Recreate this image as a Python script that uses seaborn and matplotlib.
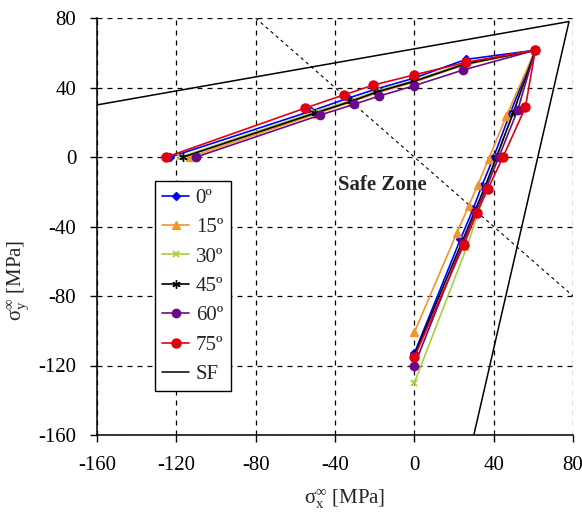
import matplotlib
matplotlib.use("Agg")
import matplotlib.pyplot as plt
import seaborn as sns
import pandas as pd

sns.set_theme(style="white")
plt.rcParams['font.family'] = ['Liberation Serif', 'DejaVu Serif']
plt.rcParams['mathtext.fontset'] = 'custom'
plt.rcParams['mathtext.rm'] = 'Liberation Serif'
plt.rcParams['mathtext.it'] = 'Liberation Serif'
plt.rcParams['mathtext.bf'] = 'Liberation Serif:bold'

labels = ["0º", "15º", "30º", "45º", "60º", "75º"]
colors = ["#0000FF", "#F0962A", "#A8D03A", "#000000", "#6A0A8A", "#E00010"]
markers = ["D", "^", "x", (6, 2, 0), "o", "o"]
msizes = [4, 6, 5, 6, 6, 6.5]

# path: left end (y=0) -> upper branch -> apex -> lower branch -> bottom (x=0)
x_0 = [-123, -52.0, -33.6, -19.7, -0.5, 26.0, 61, 48.4, 40.0, 34.0, 29.6, 23.2, 0]
y_0 = [0, 26.5, 33.8, 39.0, 45.3, 56.2, 61.5, 25.5, 0, -16.7, -30.0, -47.4, -113]
x_15 = [-113, -49.0, -31.5, -18.5, -0.4, 25.0, 61, 46.4, 37.5, 32.0, 27.4, 21.5, 0]
y_15 = [0, 25.0, 31.8, 37.0, 43.0, 53.0, 61.5, 23.6, -1, -16.1, -28.2, -43.5, -101]
x_30 = [-118, -50.5, -32.5, -19.0, -0.4, 25.5, 61, 50.0, 41.5, 36.0, 32.0, 26.2, 0]
y_30 = [0, 25.8, 32.5, 38.0, 44.0, 54.0, 61.5, 26.0, 0, -18.0, -33.0, -52.6, -130]
x_45 = [-116.5, -50.0, -32.0, -18.8, -0.4, 25.5, 61, 50.1, 41.4, 35.5, 30.5, 24.0, 0]
y_45 = [0, 25.3, 32.0, 37.5, 43.5, 53.5, 61.5, 26.1, 0, -17.5, -31.0, -49.0, -114]
x_60 = [-110, -47.4, -30.6, -17.7, -0.3, 24.6, 61, 52.1, 42.6, 36.2, 31.0, 24.5, 0]
y_60 = [0, 24.2, 30.3, 35.1, 41.0, 50.1, 61.5, 27.0, 0, -18.0, -31.5, -49.5, -120]
x_75 = [-125, -55.0, -35.7, -20.8, -0.3, 26.2, 61, 56.0, 44.7, 37.0, 31.6, 24.9, 0]
y_75 = [0, 28.2, 35.7, 41.4, 47.2, 54.6, 61.5, 28.6, 0, -18.6, -32.0, -50.6, -115.3]

xs = [x_0, x_15, x_30, x_45, x_60, x_75]
ys = [y_0, y_15, y_30, y_45, y_60, y_75]

sf_x = [-160, 78, 30]
sf_y = [30, 78, -160]
diag_x = [-80, 80]
diag_y = [80, -80]

fig = plt.figure(figsize=(5.82, 5.16), dpi=100)
ax = fig.add_axes([0.1667, 0.157, 0.8178, 0.808])

sns.lineplot(x=sf_x, y=sf_y, sort=False, estimator=None, color="black",
             linewidth=1.1, ax=ax, label="SF")
ax.plot(diag_x, diag_y, color="black", linewidth=0.8, linestyle=(0, (3, 3)))

for lab, c, m, ms, xv, yv in zip(labels, colors, markers, msizes, xs, ys):
    df = pd.DataFrame({"x": xv, "y": yv})
    sns.lineplot(data=df, x="x", y="y", sort=False, estimator=None, color=c,
                 marker=m, markersize=ms, markeredgecolor=c,
                 markeredgewidth=1.0 if m != "x" else 1.3,
                 linewidth=1.2, ax=ax, label=lab)

ax.set_xlim(-160, 80)
ax.set_ylim(-160, 80)
ticks = [-160, -120, -80, -40, 0, 40, 80]
ax.set_xticks(ticks)
ax.set_yticks(ticks)
ax.set_xticklabels([str(t) for t in ticks])
ax.set_yticklabels([str(t) for t in ticks])
ax.tick_params(axis="both", direction="out", length=5, width=1, colors="black",
               labelsize=15, bottom=True, left=True, pad=10)
ax.grid(True, color="black", linestyle=(0, (4, 4)), linewidth=0.9)
for s in ["top", "right"]:
    ax.spines[s].set_visible(False)
for s in ["left", "bottom"]:
    ax.spines[s].set_color("black")
    ax.spines[s].set_linewidth(1.1)

ax.set_xlabel(r"$\mathregular{\sigma_x^\infty}$ [MPa]", fontsize=15)
ax.set_ylabel(r"$\mathregular{\sigma_y^\infty}$ [MPa]", fontsize=15)
ax.xaxis.set_label_coords(0.52, -0.125)
ax.yaxis.set_label_coords(-0.137, 0.37)

ax.text(-16, -16, "Safe Zone", fontsize=15, fontweight="bold", ha="center", va="center")

handles, labs = ax.get_legend_handles_labels()
order = [labs.index(l) for l in labels + ["SF"]]
leg = ax.legend([handles[i] for i in order], [labs[i] for i in order],
                loc="upper left", bbox_to_anchor=(0.122, 0.609), fontsize=15,
                frameon=True, fancybox=False, edgecolor="black", framealpha=1,
                handlelength=1.3, handletextpad=0.3, labelspacing=0.47,
                borderpad=0.35, borderaxespad=0)
leg.get_frame().set_linewidth(1.0)

fig.savefig("out.png", dpi=100)
